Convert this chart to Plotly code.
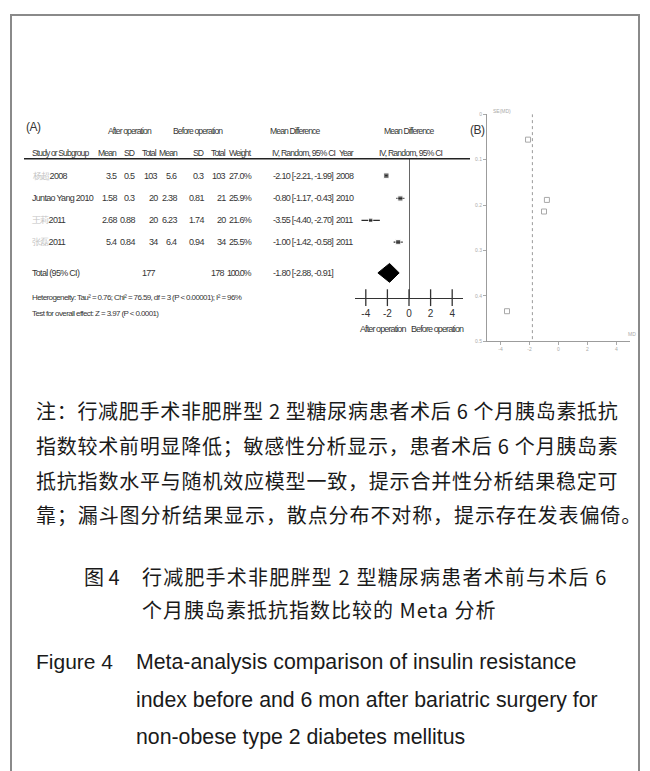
import plotly.graph_objects as go

W, H = 650, 771

# ---- forest plot data (mean difference, IV random) ----
study_author = ["杨超", "Juntao Yang", "王莉", "张磊"]
study_year = [2008, 2010, 2011, 2011]
after_mean = ["3.5", "1.58", "2.68", "5.4"]
after_sd = ["0.5", "0.3", "0.88", "0.84"]
after_n = [103, 20, 20, 34]
before_mean = ["5.6", "2.38", "6.23", "6.4"]
before_sd = ["0.3", "0.81", "1.74", "0.94"]
before_n = [103, 21, 20, 34]
weight = [27.0, 25.9, 21.6, 25.5]
md = [-2.10, -0.80, -3.55, -1.00]
ci_lo = [-2.21, -1.17, -4.40, -1.42]
ci_hi = [-1.99, -0.43, -2.70, -0.58]

total_after_n = 177
total_before_n = 178
total_md = -1.80
total_lo = -2.88
total_hi = -0.91

forest_ticks = [-4, -2, 0, 2, 4]
funnel_xticks = [-4, -2, 0, 2, 4]
funnel_yticks = [0, 0.1, 0.2, 0.3, 0.4, 0.5]

# standard error of each study from its 95% CI
se = [(h - l) / 3.92 for l, h in zip(ci_lo, ci_hi)]

SANS = "Liberation Sans, Arial, sans-serif"
CJK = "Noto Sans CJK SC, sans-serif"
TXT = "#363636"
FS = 9        # table font size
TIGHT = -0.7  # letter spacing that narrows the table font
HS = 8.6      # column header size
HTIGHT = -0.9


def px(x):
    return x / W


def py(y):
    return 1 - y / H


# row positions (pixels from top)
row_y = [174, 197, 219, 241]
total_y = 272
axis_y = 297
head_y = 157

fig = go.Figure()

# study squares with CI whiskers
fig.add_trace(go.Scatter(
    x=md, y=row_y, mode="markers",
    marker=dict(symbol="square", size=[w / 5 for w in weight], color="#2a2a2a"),
    error_x=dict(type="data", symmetric=False,
                 array=[h - m for h, m in zip(ci_hi, md)],
                 arrayminus=[m - l for m, l in zip(md, ci_lo)],
                 color="#2a2a2a", thickness=1.2, width=0),
    xaxis="x", yaxis="y", showlegend=False, hoverinfo="skip", cliponaxis=False,
))

# pooled diamond
dh = 9.5
fig.add_trace(go.Scatter(
    x=[total_lo, total_md, total_hi, total_md, total_lo],
    y=[total_y, total_y - dh, total_y, total_y + dh, total_y],
    mode="lines", fill="toself", fillcolor="#000000",
    line=dict(color="#000000", width=1),
    xaxis="x", yaxis="y", showlegend=False, hoverinfo="skip",
))

# crossing tick marks on the forest axis
fig.add_trace(go.Scatter(
    x=forest_ticks, y=[axis_y] * len(forest_ticks), mode="markers",
    marker=dict(symbol="line-ns", size=12, line=dict(color="#333", width=1.3)),
    xaxis="x", yaxis="y", showlegend=False, hoverinfo="skip", cliponaxis=False,
))

# funnel plot: pooled estimate line and study points
fig.add_trace(go.Scatter(
    x=[total_md, total_md], y=[0, 0.5], mode="lines",
    line=dict(color="#9a9a9a", width=1, dash="dot"),
    xaxis="x2", yaxis="y2", showlegend=False, hoverinfo="skip",
))
fig.add_trace(go.Scatter(
    x=md, y=se, mode="markers",
    marker=dict(symbol="square-open", size=5, color="#a8a8a8", line=dict(width=1)),
    xaxis="x2", yaxis="y2", showlegend=False, hoverinfo="skip",
))

ann = []


def text(x, y, s, size=FS, anchor="left", color=TXT, family=SANS, spacing=TIGHT):
    if spacing:
        s = "<span style='letter-spacing:%spx'>%s</span>" % (spacing, s)
    ann.append(dict(x=px(x), y=py(y), xref="paper", yref="paper", text=s,
                    showarrow=False, xanchor=anchor, yanchor="middle",
                    font=dict(size=size, color=color, family=family)))


def head(x, y, s, anchor="left"):
    text(x, y, s, HS, anchor, spacing=HTIGHT)


# ---- table headers ----
text(24, 125, "(A)", 12, spacing=-0.5)
head(106, 129, "After operation")
head(171, 129, "Before operation")
head(268, 129, "Mean Difference")
head(382, 129, "Mean Difference")
head(30, 151, "Study or Subgroup")
head(119, 151, "Mean", "right")
head(137, 151, "SD", "right")
head(159, 151, "Total", "right")
head(180, 151, "Mean", "right")
head(206, 151, "SD", "right")
head(228, 151, "Total", "right")
head(254, 151, "Weight", "right")
text(270, 151, "IV, Random, 95% CI", HS, spacing=-0.8)
head(337, 151, "Year")
text(377, 151, "IV, Random, 95% CI", HS, spacing=-0.8)

# ---- study rows ----
for i in range(len(md)):
    y = row_y[i]
    a = study_author[i]
    if any(ord(c) > 0x3000 for c in a):
        name = "<span style='color:#c4c4c4'>%s</span>%d" % (a, study_year[i])
    else:
        name = "%s %d" % (a, study_year[i])
    text(30, y, name)
    text(119, y, after_mean[i], anchor="right")
    text(137, y, after_sd[i], anchor="right")
    text(160, y, str(after_n[i]), anchor="right")
    text(179, y, before_mean[i], anchor="right")
    text(206, y, before_sd[i], anchor="right")
    text(228, y, str(before_n[i]), anchor="right")
    text(254, y, "%.1f%%" % weight[i], anchor="right")
    text(271, y, "%.2f [%.2f, %.2f]" % (md[i], ci_lo[i], ci_hi[i]))
    text(334, y, str(study_year[i]))

text(30, total_y, "Total (95% CI)")
text(158, total_y, str(total_after_n), anchor="right")
text(227, total_y, str(total_before_n), anchor="right")
text(254, total_y, "%.1f%%" % sum(weight), anchor="right", spacing=-1.2)
text(271, total_y, "%.2f [%.2f, %.2f]" % (total_md, total_lo, total_hi))
text(30, 297, "Heterogeneity: Tau² = 0.76; Chi² = 76.59, df = 3 (P < 0.00001); I² = 96%", 8, spacing=-0.6)
text(30, 313, "Test for overall effect: Z = 3.97 (P < 0.0001)", 8, spacing=-0.6)
text(383, 329, "After operation", anchor="center", spacing=-0.9)
text(437, 329, "Before operation", anchor="center", spacing=-0.9)

# ---- funnel labels ----
text(468, 128, "(B)", 12, spacing=-0.5)
text(491, 109, "SE(MD)", 5, color="#aaa", spacing=None)
text(626, 334, "MD", 5, color="#aaa", spacing=None)

# ---- notes and captions ----
note = [
    "注：行减肥手术非肥胖型 2 型糖尿病患者术后 6 个月胰岛素抵抗",
    "指数较术前明显降低；敏感性分析显示，患者术后 6 个月胰岛素",
    "抵抗指数水平与随机效应模型一致，提示合并性分析结果稳定可",
    "靠；漏斗图分析结果显示，散点分布不对称，提示存在发表偏倚。",
]
note_spacing = [0.7, 0.75, 0.8, 0.9]
for i, s in enumerate(note):
    text(34, 411 + i * 35, s, 20, color="#1a1a1a", family=CJK, spacing=note_spacing[i])

text(82, 578, "图 4", 20, color="#1a1a1a", family=CJK, spacing=None)
text(140, 578, "行减肥手术非肥胖型 2 型糖尿病患者术前与术后 6", 20,
     color="#1a1a1a", family=CJK, spacing=1.2)
text(140, 611, "个月胰岛素抵抗指数比较的 Meta 分析", 20,
     color="#1a1a1a", family=CJK, spacing=1.0)

text(34, 664, "Figure 4", 21, color="#1a1a1a", spacing=None)
eng = [
    "Meta-analysis comparison of insulin resistance",
    "index before and 6 mon after bariatric surgery for",
    "non-obese type 2 diabetes mellitus",
]
for i, s in enumerate(eng):
    text(134, 664 + i * 38, s, 21.3, color="#1a1a1a", spacing=None)

shapes = [
    # outer frame
    dict(type="rect", xref="paper", yref="paper", x0=px(11), x1=px(639),
         y0=py(790), y1=py(12), line=dict(color="#8a8a8a", width=2)),
    # header underline
    dict(type="line", xref="paper", yref="paper", x0=px(24), x1=px(470),
         y0=py(head_y), y1=py(head_y), line=dict(color="#222", width=1.5)),
]

fig.update_layout(
    width=W, height=H, margin=dict(l=0, r=0, t=0, b=0),
    paper_bgcolor="white", plot_bgcolor="rgba(0,0,0,0)",
    annotations=ann, shapes=shapes,
    xaxis=dict(domain=[px(355), px(463)], range=[-5, 5], anchor="y",
               showline=True, linecolor="#333", linewidth=1.3,
               ticks="outside", ticklen=6, tickcolor="rgba(0,0,0,0)",
               tickvals=forest_ticks, ticktext=[str(t) for t in forest_ticks],
               tickfont=dict(family=SANS, size=10, color="#333"),
               showgrid=False, zeroline=True, zerolinecolor="#666", zerolinewidth=1,
               fixedrange=True),
    yaxis=dict(domain=[py(axis_y), py(head_y)], range=[axis_y, head_y],
               anchor="x", visible=False, fixedrange=True),
    xaxis2=dict(domain=[px(487), px(630)], range=[-4.93, 4.93], anchor="y2",
                showline=True, linecolor="#9c9c9c", linewidth=1,
                ticks="outside", ticklen=3, tickcolor="#aaa",
                tickvals=funnel_xticks, ticktext=[str(t) for t in funnel_xticks],
                tickfont=dict(family=SANS, size=5, color="#aaa"),
                showgrid=False, zeroline=False, fixedrange=True),
    yaxis2=dict(domain=[py(341), py(112)], range=[0.5, 0], anchor="x2",
                showline=True, linecolor="#9c9c9c", linewidth=1,
                ticks="outside", ticklen=3, tickcolor="#aaa",
                tickvals=funnel_yticks, ticktext=["%g" % t for t in funnel_yticks],
                tickfont=dict(family=SANS, size=5, color="#aaa"),
                showgrid=False, zeroline=False, fixedrange=True),
)

fig.write_html("out.html")
